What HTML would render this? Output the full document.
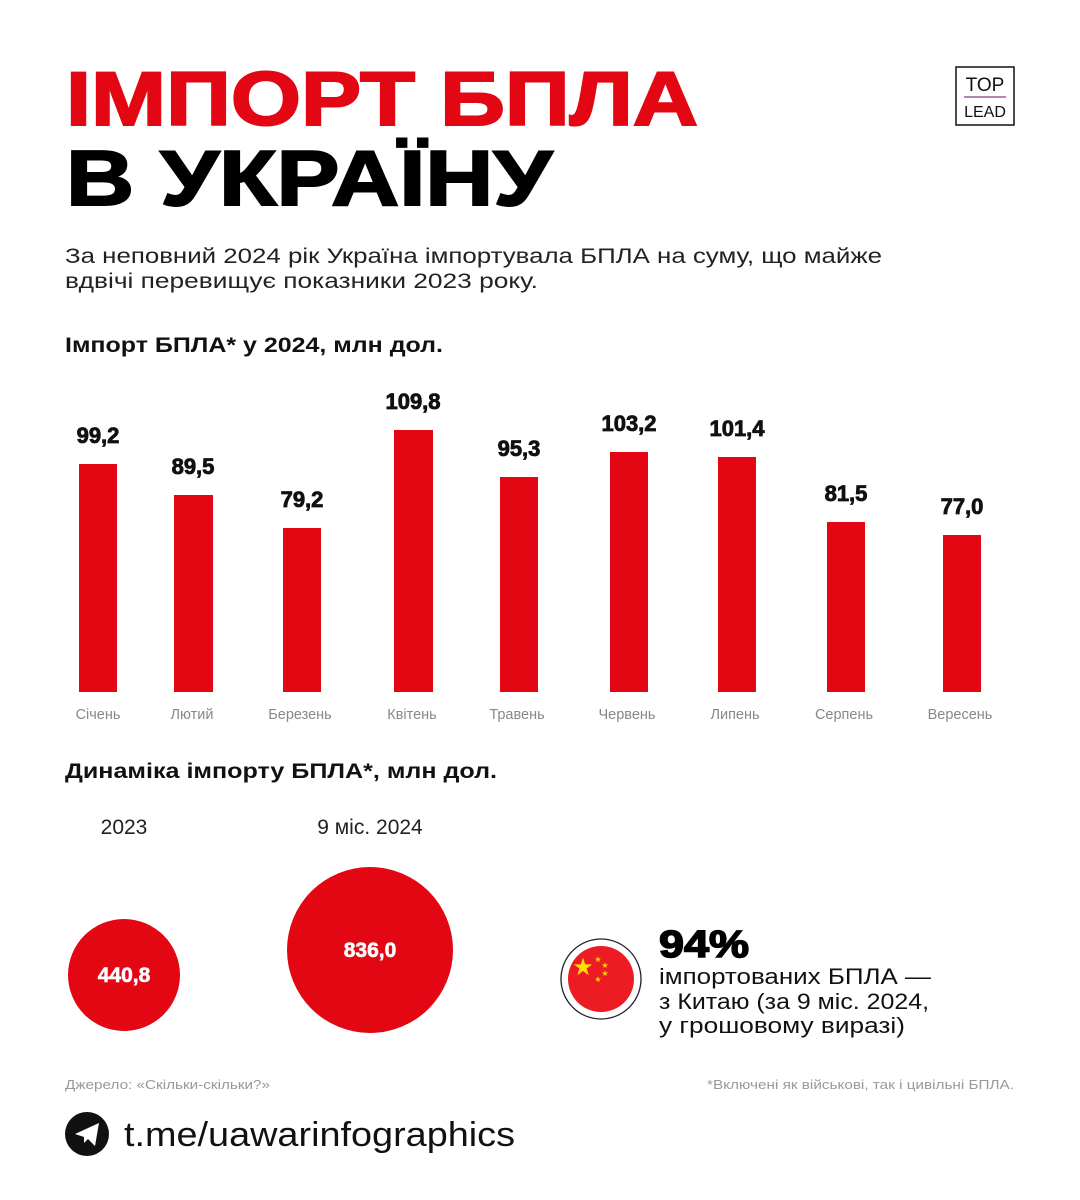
<!DOCTYPE html>
<html><head><meta charset="utf-8"><style>
html,body{margin:0;padding:0;background:#fff}
svg{display:block}
text{font-family:"Liberation Sans",sans-serif}
</style></head><body>
<svg width="1080" height="1200" viewBox="0 0 1080 1200" xmlns="http://www.w3.org/2000/svg">
<rect width="1080" height="1200" fill="#fff"/>
<text x="66" y="125" font-size="76" font-weight="bold" fill="#e30613" stroke="#e30613" stroke-width="2" textLength="632" lengthAdjust="spacingAndGlyphs">ІМПОРТ БПЛА</text>
<text x="66" y="205" font-size="78" font-weight="bold" fill="#000" stroke="#000" stroke-width="2" textLength="486" lengthAdjust="spacingAndGlyphs">В УКРАЇНУ</text>
<rect x="956" y="67" width="58" height="58" fill="none" stroke="#111" stroke-width="1.5"/>
<text x="985" y="91" font-size="19" text-anchor="middle" fill="#111">TOP</text>
<line x1="964" y1="97" x2="1006" y2="97" stroke="#8a3f8a" stroke-width="1.2"/>
<text x="985" y="117" font-size="16" text-anchor="middle" fill="#111">LEAD</text>
<text x="65" y="263" font-size="21" fill="#222" textLength="817" lengthAdjust="spacingAndGlyphs">За неповний 2024 рік Україна імпортувала БПЛА на суму, що майже</text>
<text x="65" y="288" font-size="21" fill="#222" textLength="473" lengthAdjust="spacingAndGlyphs">вдвічі перевищує показники 2023 року.</text>
<text x="65" y="352" font-size="21" font-weight="bold" fill="#111" textLength="378" lengthAdjust="spacingAndGlyphs">Імпорт БПЛА* у 2024, млн дол.</text>
<g fill="#e30613">
<rect x="79" y="464" width="38" height="228"/>
<rect x="174" y="495" width="39" height="197"/>
<rect x="283" y="528" width="38" height="164"/>
<rect x="394" y="430" width="39" height="262"/>
<rect x="500" y="477" width="38" height="215"/>
<rect x="610" y="452" width="38" height="240"/>
<rect x="718" y="457" width="38" height="235"/>
<rect x="827" y="522" width="38" height="170"/>
<rect x="943" y="535" width="38" height="157"/>
</g>
<g font-size="22" font-weight="bold" fill="#111" text-anchor="middle" stroke="#111" stroke-width="0.8">
<text x="98" y="443">99,2</text>
<text x="193" y="474">89,5</text>
<text x="302" y="507">79,2</text>
<text x="413" y="409">109,8</text>
<text x="519" y="456">95,3</text>
<text x="629" y="431">103,2</text>
<text x="737" y="436">101,4</text>
<text x="846" y="501">81,5</text>
<text x="962" y="514">77,0</text>
</g>
<g font-size="14.5" fill="#888" text-anchor="middle">
<text x="98" y="719">Січень</text>
<text x="192" y="719">Лютий</text>
<text x="300" y="719">Березень</text>
<text x="412" y="719">Квітень</text>
<text x="517" y="719">Травень</text>
<text x="627" y="719">Червень</text>
<text x="735" y="719">Липень</text>
<text x="844" y="719">Серпень</text>
<text x="960" y="719">Вересень</text>
</g>
<text x="65" y="778" font-size="21" font-weight="bold" fill="#111" textLength="432" lengthAdjust="spacingAndGlyphs">Динаміка імпорту БПЛА*, млн дол.</text>
<text x="124" y="834" font-size="21" fill="#222" text-anchor="middle">2023</text>
<text x="370" y="834" font-size="21" fill="#222" text-anchor="middle">9 міс. 2024</text>
<circle cx="124" cy="975" r="56" fill="#e30613"/>
<circle cx="370" cy="950" r="83" fill="#e30613"/>
<text x="124" y="982" font-size="21" font-weight="bold" fill="#fff" text-anchor="middle" stroke="#fff" stroke-width="0.6">440,8</text>
<text x="370" y="957" font-size="21" font-weight="bold" fill="#fff" text-anchor="middle" stroke="#fff" stroke-width="0.6">836,0</text>
<circle cx="601" cy="979" r="40" fill="#fff" stroke="#222" stroke-width="1.3"/>
<circle cx="601" cy="979" r="33" fill="#ed1c24"/>
<g fill="#ffde00" text-anchor="middle">
<text x="583" y="975" font-size="24">★</text>
<text x="598" y="962" font-size="8">★</text>
<text x="605" y="968" font-size="8">★</text>
<text x="605" y="976" font-size="8">★</text>
<text x="598" y="982" font-size="8">★</text>
</g>
<text x="659" y="957" font-size="38" font-weight="bold" fill="#000" stroke="#000" stroke-width="1.5" textLength="90" lengthAdjust="spacingAndGlyphs">94%</text>
<text x="659" y="984" font-size="22" fill="#111" textLength="272" lengthAdjust="spacingAndGlyphs">імпортованих БПЛА —</text>
<text x="659" y="1009" font-size="22" fill="#111" textLength="270" lengthAdjust="spacingAndGlyphs">з Китаю (за 9 міс. 2024,</text>
<text x="659" y="1033" font-size="22" fill="#111" textLength="246" lengthAdjust="spacingAndGlyphs">у грошовому виразі)</text>
<text x="65" y="1089" font-size="13" fill="#999" textLength="205" lengthAdjust="spacingAndGlyphs">Джерело: «Скільки-скільки?»</text>
<text x="1014" y="1089" font-size="13" fill="#999" text-anchor="end" textLength="307" lengthAdjust="spacingAndGlyphs">*Включені як військові, так і цивільні БПЛА.</text>
<circle cx="87" cy="1134" r="22" fill="#111"/>
<path d="M75 1134 L99 1123 L95 1146 L88 1139 L84 1143 L84 1137 Z" fill="#fff"/>
<text x="124" y="1146" font-size="34" fill="#111" textLength="391" lengthAdjust="spacingAndGlyphs">t.me/uawarinfographics</text>
</svg>
</body></html>
